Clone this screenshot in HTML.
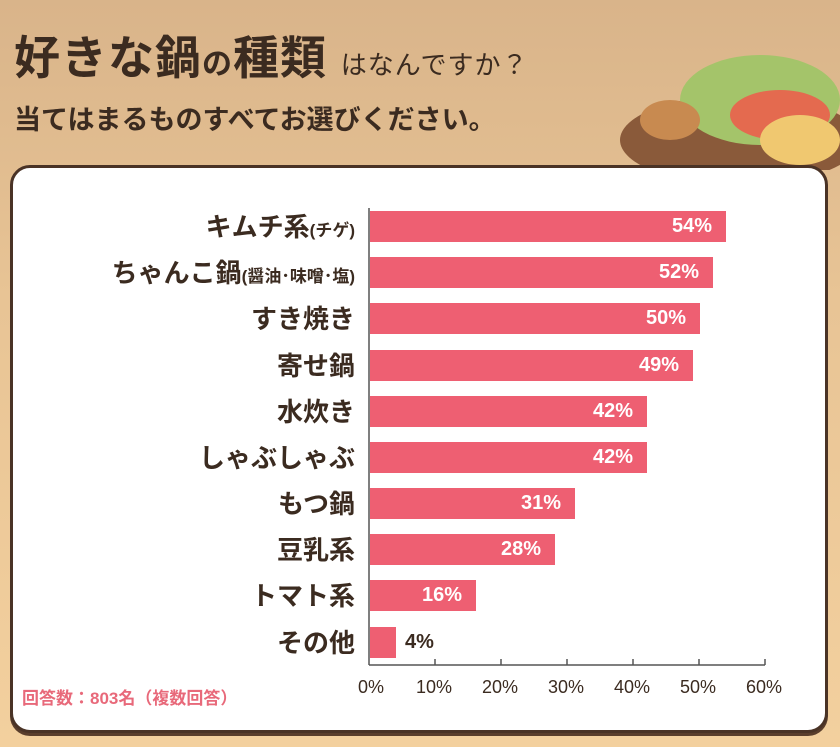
<!DOCTYPE html>
<html><head><meta charset="utf-8"><style>
*{margin:0;padding:0;box-sizing:border-box}
body{width:840px;height:747px;overflow:hidden;background:linear-gradient(180deg,#d9b48a 0%,#e8c495 40%,#f3d09e 100%);font-family:"Liberation Sans","Noto Sans CJK JP",sans-serif;position:relative;color:#3b2b20}
.t1{position:absolute;left:14px;top:22px;font-size:46px;font-weight:bold;letter-spacing:1px;white-space:nowrap}
.t1 .s{font-size:30px}.t1 .m{font-size:26px;font-weight:normal}
.t2{position:absolute;left:14px;top:98px;font-size:27px;font-weight:bold;white-space:nowrap}
.panel{position:absolute;left:10px;top:165px;width:818px;height:568px;background:#fff;border:3px solid #4a3326;border-radius:20px;box-shadow:0 3px 0 #5a3e2c}
.lab{position:absolute;right:485px;font-size:26px;font-weight:bold;white-space:nowrap;text-align:right;line-height:32px}
.lab small{font-size:17px}
.bar{position:absolute;left:370px;height:31px;background:#ee5f72}
.pct{position:absolute;font-size:20px;font-weight:bold;color:#fff;line-height:31px}
.tick{position:absolute;font-size:18px;top:677px;color:#3b2b20}
</style></head><body>
<div class="t1">好きな鍋<span class="s">の</span>種類 <span class="m">はなんですか？</span></div>
<div class="t2">当てはまるものすべてお選びください。</div>
<svg style="position:absolute;left:610px;top:20px" width="230" height="150"><ellipse cx="130" cy="120" rx="120" ry="45" fill="#8a5a3a"/><ellipse cx="150" cy="80" rx="80" ry="45" fill="#a4c46a"/><ellipse cx="170" cy="95" rx="50" ry="25" fill="#e46a4f"/><ellipse cx="190" cy="120" rx="40" ry="25" fill="#f0c870"/><ellipse cx="60" cy="100" rx="30" ry="20" fill="#c88a50"/></svg>
<div class="panel"></div>
<div class="lab" style="top:211px">キムチ系<small>(チゲ)</small></div>
<div class="lab" style="top:257px">ちゃんこ鍋<small>(醤油･味噌･塩)</small></div>
<div class="lab" style="top:303px">すき焼き</div>
<div class="lab" style="top:350px">寄せ鍋</div>
<div class="lab" style="top:396px">水炊き</div>
<div class="lab" style="top:442px">しゃぶしゃぶ</div>
<div class="lab" style="top:488px">もつ鍋</div>
<div class="lab" style="top:534px">豆乳系</div>
<div class="lab" style="top:580px">トマト系</div>
<div class="lab" style="top:627px">その他</div>
<div class="bar" style="top:211px;width:356px"></div><div class="pct" style="top:211px;left:672px">54%</div>
<div class="bar" style="top:257px;width:343px"></div><div class="pct" style="top:257px;left:659px">52%</div>
<div class="bar" style="top:303px;width:330px"></div><div class="pct" style="top:303px;left:646px">50%</div>
<div class="bar" style="top:350px;width:323px"></div><div class="pct" style="top:350px;left:639px">49%</div>
<div class="bar" style="top:396px;width:277px"></div><div class="pct" style="top:396px;left:593px">42%</div>
<div class="bar" style="top:442px;width:277px"></div><div class="pct" style="top:442px;left:593px">42%</div>
<div class="bar" style="top:488px;width:205px"></div><div class="pct" style="top:488px;left:521px">31%</div>
<div class="bar" style="top:534px;width:185px"></div><div class="pct" style="top:534px;left:501px">28%</div>
<div class="bar" style="top:580px;width:106px"></div><div class="pct" style="top:580px;left:422px">16%</div>
<div class="bar" style="top:627px;width:26px"></div><div class="pct" style="top:627px;left:405px;color:#3b2b20">4%</div>
<svg style="position:absolute;left:0;top:0" width="840" height="747">
<g stroke="#555" stroke-width="1.5">
<line x1="369" y1="208" x2="369" y2="665"/><line x1="369" y1="665" x2="765" y2="665"/>
<line x1="435" y1="659" x2="435" y2="665"/><line x1="501" y1="659" x2="501" y2="665"/><line x1="567" y1="659" x2="567" y2="665"/><line x1="633" y1="659" x2="633" y2="665"/><line x1="699" y1="659" x2="699" y2="665"/><line x1="765" y1="659" x2="765" y2="665"/>
</g></svg>
<div class="tick" style="left:358px">0%</div>
<div class="tick" style="left:416px">10%</div>
<div class="tick" style="left:482px">20%</div>
<div class="tick" style="left:548px">30%</div>
<div class="tick" style="left:614px">40%</div>
<div class="tick" style="left:680px">50%</div>
<div class="tick" style="left:746px">60%</div>
<div style="position:absolute;left:22px;top:684px;font-size:17px;font-weight:bold;color:#e8697a;white-space:nowrap">回答数：803名（複数回答）</div>
</body></html>
